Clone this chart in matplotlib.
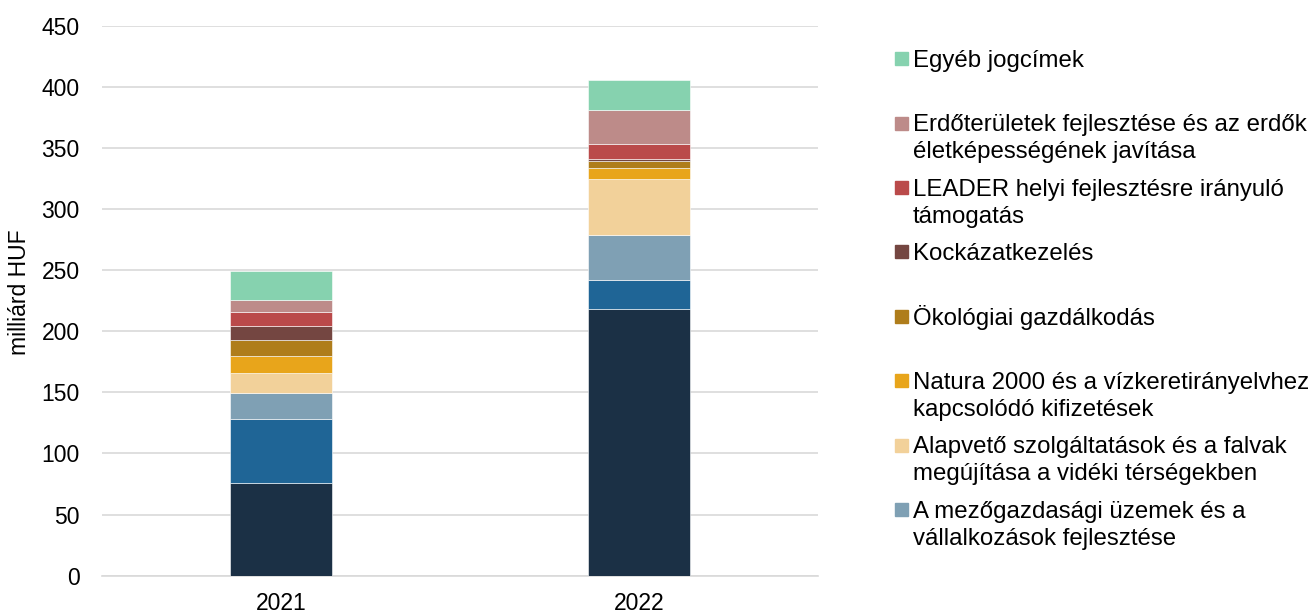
import matplotlib.pyplot as plt
import numpy as np

plt.rcParams['font.family'] = ['Liberation Sans', 'DejaVu Sans']

years = ['2021', '2022']
# stacking order, bottom to top
series = [
    'Beruházások tárgyi eszközökbe',
    'Agrár-környezetvédelmi-éghajlati kifizetések',
    'A mezőgazdasági üzemek és a\nvállalkozások fejlesztése',
    'Alapvető szolgáltatások és a falvak\nmegújítása a vidéki térségekben',
    'Natura 2000 és a vízkeretirányelvhez\nkapcsolódó kifizetések',
    'Ökológiai gazdálkodás',
    'Kockázatkezelés',
    'LEADER helyi fejlesztésre irányuló\ntámogatás',
    'Erdőterületek fejlesztése és az erdők\néletképességének javítása',
    'Egyéb jogcímek',
]
values_2021 = [76.0, 52.4, 21.1, 16.1, 13.9, 13.1, 11.8, 11.4, 9.9, 23.7]
values_2022 = [218.6, 23.2, 36.9, 45.9, 9.0, 6.0, 1.4, 12.5, 27.4, 24.3]
colors = ['#1B3045', '#1F6596', '#7FA0B4', '#F2D19A', '#E8A51B',
          '#AF7D1B', '#744641', '#BA4A4A', '#BD8B89', '#86D2AF']
# series shown in the legend (top to bottom)
legend_order = [9, 8, 7, 6, 5, 4, 3, 2]

fig = plt.figure(figsize=(13.12, 6.13), dpi=100)
ax = fig.add_axes([102 / 1312, 1 - 575.7 / 613, 716 / 1312, 550 / 613])

x = np.arange(len(years))
data = np.array([values_2021, values_2022]).T
bottom = np.zeros(len(years))
for i in range(len(series)):
    ax.bar(x, data[i], 0.286, bottom=bottom, color=colors[i],
           edgecolor='white', linewidth=0.4, zorder=3)
    bottom += data[i]

ax.set_xlim(-0.5, 1.5)
ax.set_ylim(0, 450)
ax.set_yticks(range(0, 451, 50))
ax.set_xticks(x)
ax.set_xticklabels(years)
ax.grid(axis='y', color='#D9D9D9', linewidth=1.2, zorder=0)
for s in ['top', 'right', 'left']:
    ax.spines[s].set_visible(False)
ax.spines['bottom'].set_color('#D9D9D9')
ax.spines['bottom'].set_linewidth(1.2)
ax.tick_params(axis='both', length=0, labelsize=16.5, colors='black')
ax.tick_params(axis='y', pad=16)
ax.tick_params(axis='x', pad=12)
ax.set_ylabel('milliárd HUF', fontsize=16.5)
ax.yaxis.set_label_coords(-0.099, 0.516)

# legend drawn by hand, Excel style
W, H = 1312, 613
for k, idx in enumerate(legend_order):
    yc = 58.7 + 64.4 * k
    fig.patches.append(plt.Rectangle((895 / W, 1 - (yc + 6.5) / H), 13 / W, 13 / H,
                                     transform=fig.transFigure, color=colors[idx]))
    for j, line in enumerate(series[idx].split('\n')):
        fig.text(913 / W, 1 - (yc + 8.3 + 27 * j) / H, line, fontsize=17.3,
                 va='baseline', ha='left')

fig.savefig('out.png', dpi=100)
